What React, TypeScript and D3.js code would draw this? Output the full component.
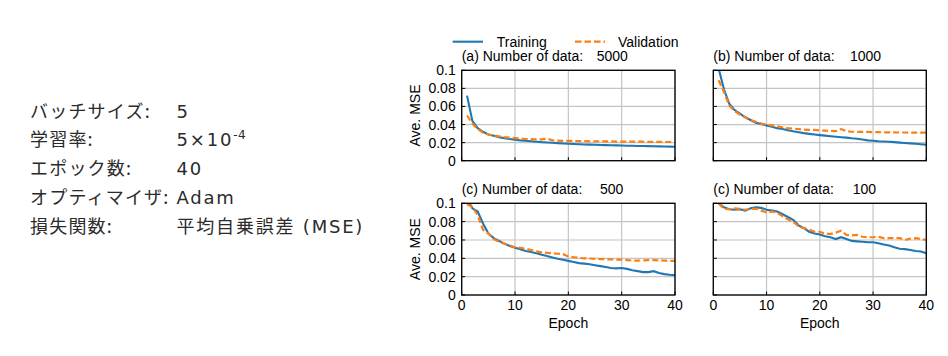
import React from "react";
import * as d3 from "d3";

const epochs = d3.range(1, 41);

const titles = ["(a) Number of data:", "(b) Number of data:", "(c) Number of data:", "(c) Number of data:"];
const dataSizes = ["5000", "1000", "500", "100"];

const train5000 = [0.072, 0.044, 0.036, 0.032, 0.029, 0.0275, 0.026, 0.025, 0.024, 0.0232, 0.0225, 0.022, 0.0215, 0.021, 0.0205, 0.0202, 0.0198, 0.0194, 0.019, 0.0187, 0.0184, 0.0182, 0.018, 0.0178, 0.0176, 0.0174, 0.0172, 0.0171, 0.017, 0.0168, 0.0166, 0.0165, 0.0163, 0.0162, 0.0161, 0.016, 0.0158, 0.0157, 0.0156, 0.0155];
const val5000 = [0.05, 0.041, 0.035, 0.031, 0.029, 0.028, 0.027, 0.026, 0.0255, 0.025, 0.0245, 0.024, 0.024, 0.0235, 0.0235, 0.0245, 0.0225, 0.0222, 0.022, 0.022, 0.0218, 0.0217, 0.0216, 0.0215, 0.0215, 0.0214, 0.0213, 0.0213, 0.0212, 0.0212, 0.0211, 0.021, 0.021, 0.021, 0.0209, 0.0209, 0.0208, 0.0208, 0.0207, 0.0207];

const train1000 = [0.102, 0.079, 0.063, 0.056, 0.052, 0.048, 0.045, 0.042, 0.0405, 0.039, 0.0375, 0.036, 0.035, 0.0337, 0.0325, 0.0315, 0.0305, 0.0297, 0.029, 0.0283, 0.0277, 0.0271, 0.0265, 0.026, 0.0255, 0.0248, 0.0243, 0.0235, 0.0225, 0.022, 0.0215, 0.0212, 0.021, 0.0205, 0.02, 0.0196, 0.0192, 0.0188, 0.0182, 0.0176];
const val1000 = [0.089, 0.076, 0.061, 0.055, 0.051, 0.048, 0.045, 0.043, 0.041, 0.04, 0.039, 0.038, 0.037, 0.036, 0.0355, 0.035, 0.0345, 0.034, 0.034, 0.0335, 0.0333, 0.033, 0.0328, 0.035, 0.0325, 0.032, 0.032, 0.0318, 0.0318, 0.0316, 0.0315, 0.0314, 0.0313, 0.0313, 0.0312, 0.0312, 0.0311, 0.031, 0.031, 0.031];

const train500 = [0.105, 0.0945, 0.091, 0.078, 0.067, 0.062, 0.059, 0.056, 0.0535, 0.0516, 0.05, 0.048, 0.0468, 0.0455, 0.044, 0.0425, 0.041, 0.0395, 0.0385, 0.0372, 0.036, 0.0348, 0.0342, 0.0335, 0.0325, 0.0315, 0.0305, 0.0295, 0.029, 0.0295, 0.0285, 0.027, 0.026, 0.025, 0.025, 0.026, 0.024, 0.0228, 0.022, 0.0215];
const val500 = [0.099, 0.096, 0.087, 0.071, 0.067, 0.061, 0.058, 0.056, 0.054, 0.052, 0.0515, 0.0505, 0.049, 0.0475, 0.0465, 0.046, 0.0455, 0.045, 0.0445, 0.042, 0.0412, 0.0405, 0.04, 0.0398, 0.0395, 0.0392, 0.039, 0.0388, 0.0386, 0.0385, 0.038, 0.0375, 0.0375, 0.0378, 0.038, 0.038, 0.0378, 0.0375, 0.0373, 0.0372];

const train100 = [0.1, 0.0956, 0.0935, 0.093, 0.0935, 0.092, 0.0945, 0.0956, 0.095, 0.093, 0.092, 0.091, 0.088, 0.085, 0.082, 0.076, 0.073, 0.069, 0.067, 0.066, 0.064, 0.063, 0.061, 0.063, 0.061, 0.059, 0.0585, 0.058, 0.0575, 0.0575, 0.0565, 0.055, 0.054, 0.052, 0.0505, 0.05, 0.049, 0.048, 0.0475, 0.0455];
const val100 = [0.1, 0.094, 0.0935, 0.0945, 0.094, 0.093, 0.094, 0.094, 0.092, 0.09, 0.091, 0.0895, 0.086, 0.0825, 0.08, 0.075, 0.073, 0.0715, 0.069, 0.069, 0.067, 0.0665, 0.068, 0.07, 0.0655, 0.065, 0.0655, 0.0635, 0.063, 0.063, 0.0635, 0.062, 0.062, 0.062, 0.062, 0.06, 0.0615, 0.062, 0.061, 0.06];

const trainSeries = [train5000, train1000, train500, train100];
const valSeries = [val5000, val1000, val500, val100];

const yTicks = [0, 0.02, 0.04, 0.06, 0.08, 0.1];
const yTickLabels = ["0", "0.02", "0.04", "0.06", "0.08", "0.1"];
const xTicks = [0, 10, 20, 30, 40];

const paramLabels = ["バッチサイズ:", "学習率:", "エポック数:", "オプティマイザ:", "損失関数:"];
const paramValues = ["5", "5×10", "40", "Adam", "平均自乗誤差 (MSE)"];

const BLUE = "#1f77b4";
const ORANGE = "#ff7f0e";
const FONT = "'Liberation Sans', Arial, sans-serif";

const panels = [
  { x0: 461.7, x1: 675, y0: 70.3, y1: 160.7, numX: 596.7, showY: true, showX: false },
  { x0: 713.3, x1: 926.3, y0: 70.3, y1: 160.7, numX: 850, showY: false, showX: false },
  { x0: 461.7, x1: 675, y0: 203.3, y1: 295, numX: 600, showY: true, showX: true },
  { x0: 713.3, x1: 926.3, y0: 203.3, y1: 295, numX: 852.7, showY: false, showX: true },
];

function Panel({ idx }: { idx: number }) {
  const p = panels[idx];
  const x = d3.scaleLinear().domain([0, 40]).range([p.x0, p.x1]);
  const y = d3.scaleLinear().domain([0, 0.1]).range([p.y1, p.y0]);
  const line = d3
    .line<number>()
    .x((_, i) => x(epochs[i]))
    .y((d) => y(d));
  const clipId = `clip${idx}`;
  return (
    <g>
      <defs>
        <clipPath id={clipId}>
          <rect x={p.x0} y={p.y0} width={p.x1 - p.x0} height={p.y1 - p.y0} />
        </clipPath>
      </defs>
      {yTicks.map((t) => (
        <line key={"gy" + t} x1={p.x0} x2={p.x1} y1={y(t)} y2={y(t)} stroke="#c4c4c4" strokeWidth={1.2} />
      ))}
      {xTicks.map((t) => (
        <line key={"gx" + t} x1={x(t)} x2={x(t)} y1={p.y0} y2={p.y1} stroke="#c4c4c4" strokeWidth={1.2} />
      ))}
      {yTicks.map((t) => (
        <line key={"ty" + t} x1={p.x0} x2={p.x0 + 3.5} y1={y(t)} y2={y(t)} stroke="#000" strokeWidth={1} />
      ))}
      {xTicks.map((t) => (
        <line key={"tx" + t} x1={x(t)} x2={x(t)} y1={p.y1} y2={p.y1 - 3.5} stroke="#000" strokeWidth={1} />
      ))}
      <g clipPath={`url(#${clipId})`}>
        <path d={line(trainSeries[idx]) || ""} fill="none" stroke={BLUE} strokeWidth={2.1} />
        <path d={line(valSeries[idx]) || ""} fill="none" stroke={ORANGE} strokeWidth={2.2} strokeDasharray="6,3" />
      </g>
      <rect x={p.x0} y={p.y0} width={p.x1 - p.x0} height={p.y1 - p.y0} fill="none" stroke="#000" strokeWidth={1.3} />
      <text x={p.x0} y={p.y0 - 9} fontSize={14} fontFamily={FONT} fill="#000">
        {titles[idx]}
      </text>
      <text x={p.numX} y={p.y0 - 9} fontSize={14} fontFamily={FONT} fill="#000">
        {dataSizes[idx]}
      </text>
      {p.showY &&
        yTicks.map((t, i) => (
          <text key={"ly" + t} x={p.x0 - 6} y={y(t) + 5} fontSize={14} fontFamily={FONT} textAnchor="end" fill="#000">
            {yTickLabels[i]}
          </text>
        ))}
      {p.showY && (
        <text
          transform={`translate(${420},${(p.y0 + p.y1) / 2}) rotate(-90)`}
          fontSize={14}
          fontFamily={FONT}
          textAnchor="middle"
          fill="#000"
        >
          Ave. MSE
        </text>
      )}
      {p.showX &&
        xTicks.map((t) => (
          <text key={"lx" + t} x={x(t)} y={p.y1 + 14.5} fontSize={14} fontFamily={FONT} textAnchor="middle" fill="#000">
            {t}
          </text>
        ))}
      {p.showX && (
        <text x={(p.x0 + p.x1) / 2} y={p.y1 + 32.5} fontSize={14} fontFamily={FONT} textAnchor="middle" fill="#000">
          Epoch
        </text>
      )}
    </g>
  );
}

export default function App() {
  const jp = "'Noto Sans CJK JP', sans-serif";
  const valFont = "'DejaVu Sans', 'Noto Sans CJK JP', sans-serif";
  return (
    <svg width={948} height={356} style={{ position: "absolute", left: 0, top: 0, background: "#fff" }}>
      <rect x={0} y={0} width={948} height={356} fill="#fff" />
      {paramLabels.map((lab, i) => (
        <g key={lab}>
          <text x={30} y={117.5 + i * 28.9} fontSize={18} fontFamily={jp} fill="#2b2b2b" letterSpacing={1.2}>
            {lab}
          </text>
          <text x={176.5} y={117.5 + i * 28.9} fontSize={18} fontFamily={valFont} fill="#2b2b2b" letterSpacing={1.8}>
            {paramValues[i]}
            {i === 1 && (
              <tspan fontSize={12} dy={-7} letterSpacing={0.5}>
                -4
              </tspan>
            )}
          </text>
        </g>
      ))}
      <line x1={452.7} x2={483} y1={41.7} y2={41.7} stroke={BLUE} strokeWidth={2.1} />
      <text x={496.7} y={46.7} fontSize={14} fontFamily={FONT} fill="#000">
        Training
      </text>
      <line x1={575} x2={605} y1={41.7} y2={41.7} stroke={ORANGE} strokeWidth={2.2} strokeDasharray="6.5,3" />
      <text x={618} y={46.7} fontSize={14} fontFamily={FONT} fill="#000">
        Validation
      </text>
      {panels.map((_, i) => (
        <Panel key={i} idx={i} />
      ))}
    </svg>
  );
}
